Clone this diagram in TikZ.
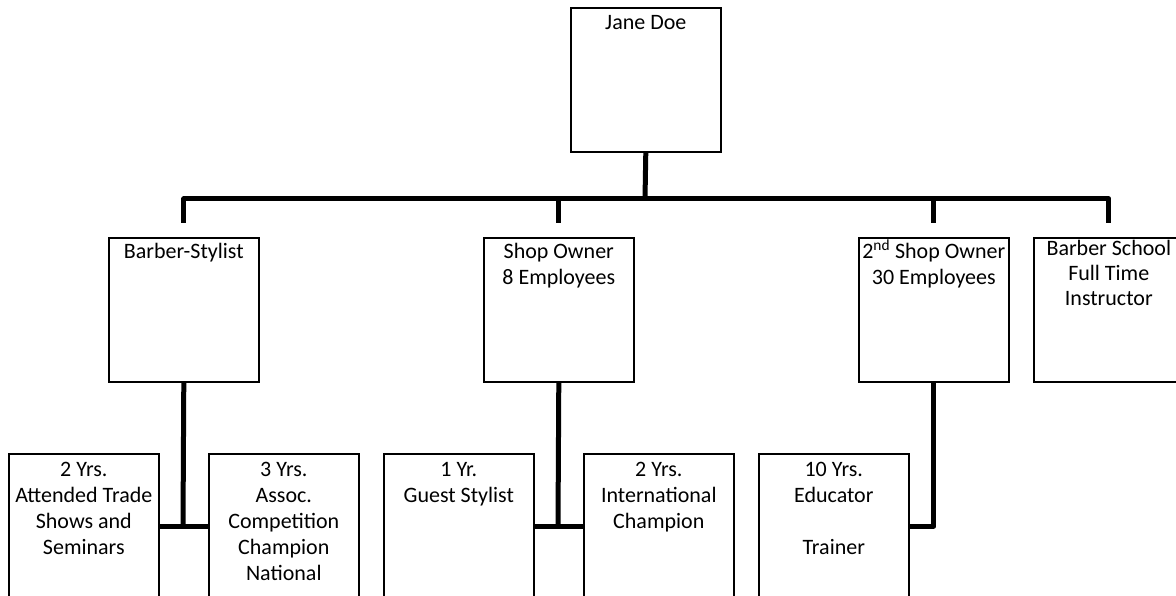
\documentclass[tikz,border=0pt]{standalone}
\usepackage{fontspec}
\setmainfont{Carlito}
\begin{document}
\begin{tikzpicture}[x=1pt, y=-1pt, font=\fontsize{22}{26}\selectfont,
  box/.style={draw, line width=1.6pt, anchor=north west, minimum width=150pt, minimum height=144pt, inner sep=0pt},
  tall/.style={box, minimum height=170pt},
  txt/.style={anchor=north, align=center, inner sep=6pt},
  link/.style={line width=5pt, line join=round}]
\useasboundingbox (0,0) rectangle (1176,596);
\clip (0,0) rectangle (1176,596);
\node[box] (pos0) at (570,7) {};
\node[txt, inner sep=8pt] (t0) at (pos0.north) {Jane Doe};
\node[box] (pos1) at (108,237) {};
\node[txt] (t1) at (pos1.north) {Barber-Stylist};
\node[box] (pos2) at (483,237) {};
\node[txt] (t2) at (pos2.north) {Shop Owner\\8 Employees};
\node[box] (pos3) at (858,237) {};
\node[txt] (t3) at (pos3.north) {2\smash{\textsuperscript{nd}} Shop Owner\\30 Employees};
\node[box] (pos4) at (1033,237) {};
\node[txt, font=\fontsize{22}{25}\selectfont, inner sep=3pt] (t4) at (pos4.north) {Barber School\\Full Time\\Instructor};
\node[tall] (yr1) at (8,453) {};
\node[txt, inner sep=9pt] (u1) at (yr1.north) {2 Yrs.\\Attended Trade\\Shows and\\Seminars};
\node[tall] (yr2) at (208,453) {};
\node[txt, inner sep=9pt] (u2) at (yr2.north) {3 Yrs.\\Assoc.\\Competition\\Champion\\National};
\node[tall] (yr3) at (383,453) {};
\node[txt, inner sep=9pt] (u3) at (yr3.north) {1 Yr.\\Guest Stylist};
\node[tall] (yr4) at (583,453) {};
\node[txt, inner sep=9pt] (u4) at (yr4.north) {2 Yrs.\\International\\Champion};
\node[tall] (yr5) at (758,453) {};
\node[txt, inner sep=9pt] (u5) at (yr5.north) {10 Yrs.\\Educator\\~\\Trainer};
\coordinate (bus) at (645,199);
\coordinate (j1) at (183,526);
\coordinate (j2) at (558,526);
\coordinate (j3) at (933,526);
\draw[link] (pos0.south) -- (bus);
\draw[link] ([yshift=14pt]pos1.north) |- (bus) -| ([yshift=14pt]pos4.north);
\draw[link] ([yshift=14pt]pos2.north) -- (pos2.north |- bus);
\draw[link] ([yshift=14pt]pos3.north) -- (pos3.north |- bus);
\draw[link] (pos1.south) -- (j1);
\draw[link] (j1 -| yr1.east) -- (j1 -| yr2.west);
\draw[link] (pos2.south) -- (j2);
\draw[link] (j2 -| yr3.east) -- (j2 -| yr4.west);
\draw[link] (pos3.south) |- (yr5.east |- j3);
\end{tikzpicture}
\end{document}
